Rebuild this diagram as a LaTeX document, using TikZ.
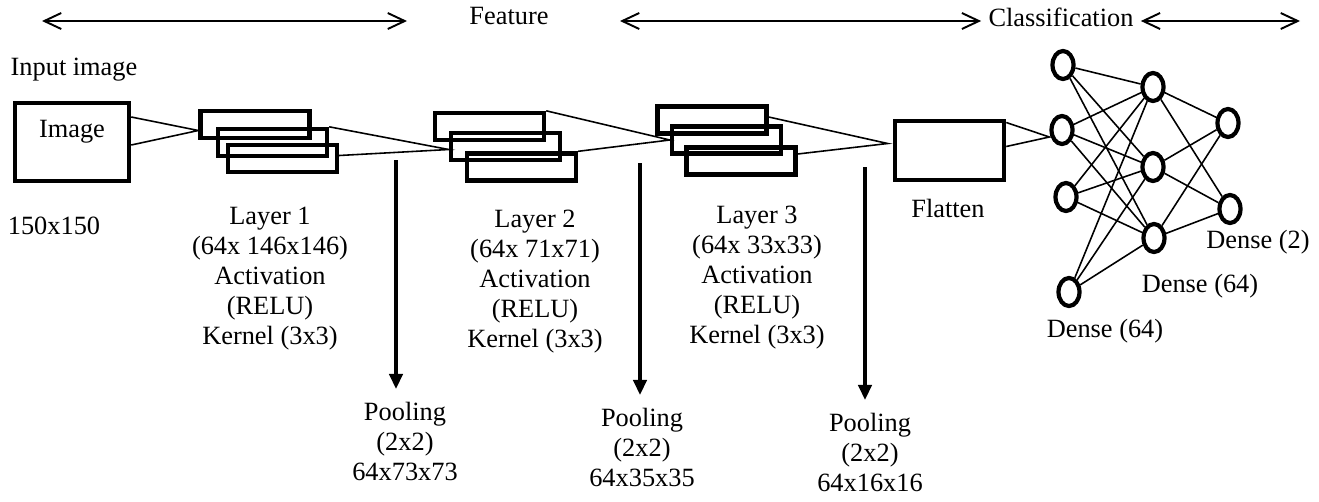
\documentclass[tikz,border=0pt]{standalone}
\usepackage{fontspec}
\setmainfont{Liberation Serif}
\usepackage{tikz}
\usetikzlibrary{shapes.geometric,arrows.meta,calc}

\begin{document}
\begin{tikzpicture}[x=0.02cm, y=-0.02cm,
    lbl/.style={font=\fontsize{15}{17.07}\selectfont, align=center, inner sep=0pt},
    imgbox/.style={rectangle, draw, line width=2.6pt, minimum width=2.28cm, minimum height=1.56cm, inner sep=0pt},
    fmap/.style={rectangle, draw, line width=2.5pt, minimum width=2.18cm, minimum height=0.54cm, inner sep=0pt},
    neuron/.style={ellipse, draw, line width=2.4pt, minimum width=0.42cm, minimum height=0.56cm, inner sep=0pt},
    link/.style={line width=0.9pt},
    pool/.style={line width=1.8pt, -{Triangle[length=0.3cm, width=0.27cm]}, shorten >=0.25cm},
    span/.style={line width=1.1pt, {Straight Barb[length=0.34cm, width=0.32cm]}-{Straight Barb[length=0.34cm, width=0.32cm]}}]
    \useasboundingbox (0,0) rectangle (1319,501);

    \node[lbl, anchor=base] (feat) at (509,24) {Feature};
    \node[lbl, anchor=base, inner xsep=4pt] (cls) at (1061,26) {Classification};
    \coordinate (a1l) at (42,21);
    \coordinate (a1r) at (407,21);
    \coordinate (a2l) at (620,21);
    \coordinate (a3r) at (1300,21);
    \draw[span] (a1l) -- (a1r);
    \draw[span] (a2l) -- (cls.west |- a2l);
    \draw[span] (cls.east |- a3r) -- (a3r);

    \node[lbl, anchor=base] (inp) at (74,75) {Input image};
    \node[imgbox] (img) at (72,142) {};
    \node[lbl, anchor=base] (imgtxt) at (72,137) {Image};
    \node[lbl, anchor=base] (insize) at (54,234) {150x150};

    \node[fmap] (l1a) at (255,124.5) {};
    \node[fmap] (l1b) at (272.5,142.5) {};
    \node[fmap] (l1c) at (282.5,158.5) {};
    \node[fmap] (l2a) at (489.5,126.5) {};
    \node[fmap] (l2b) at (505.5,146.5) {};
    \node[fmap] (l2c) at (521.5,167) {};
    \node[fmap] (l3a) at (712,120) {};
    \node[fmap] (l3b) at (726.5,140) {};
    \node[fmap] (l3c) at (741,161) {};

    \node[lbl] (l1txt) at (270,278.5) {Layer 1\\(64x 146x146)\\Activation\\(RELU)\\Kernel (3x3)};
    \node[lbl] (l2txt) at (535,282) {Layer 2\\(64x 71x71)\\Activation\\(RELU)\\Kernel (3x3)};
    \node[lbl] (l3txt) at (757,277.5) {Layer 3\\(64x 33x33)\\Activation\\(RELU)\\Kernel (3x3)};

    \node[imgbox, minimum width=2.18cm, minimum height=1.18cm] (flat) at (949.5,150.5) {};
    \node[lbl, anchor=base] (flattxt) at (948,217) {Flatten};

    \draw[link] ($(img.east)+(0,-25)$) -- ($(l1a.west)+(0,6)$) -- ($(img.east)+(0,3)$);
    \draw[link] (l1b.north east) -- ($(l2b.west)+(0,3)$) -- ($(l1c.east)+(0,-3)$);
    \draw[link] (l2a.north east) -- (l3b.west) -- (l2c.north east);
    \draw[link] ($(l3a.east)+(0,-3)$) -- ($(flat.west)+(-5,-7)$) -- ($(l3c.east)+(0,-7)$);

    \node[lbl] (p1) at (405,441) {Pooling\\(2x2)\\64x73x73};
    \node[lbl] (p2) at (642,447) {Pooling\\(2x2)\\64x35x35};
    \node[lbl] (p3) at (870,452) {Pooling\\(2x2)\\64x16x16};
    \coordinate (q1) at (396,160);
    \coordinate (q2) at (640,163);
    \coordinate (q3) at (865,167);
    \draw[pool] (q1) -- (q1 |- p1.north);
    \draw[pool] (q2) -- (q2 |- p2.north);
    \draw[pool] (q3) -- (q3 |- p3.north);

    \foreach \n/\x/\y in {i1/1063/65, i2/1062/130, i3/1066/197, i4/1069/292,
                          h1/1153/87, h2/1153/167, h3/1154/238, o1/1228/123, o2/1230/209}
        \node[neuron] (\n) at (\x,\y) {};
    \foreach \i in {1,...,4}
        \foreach \h in {1,2,3}
            \draw[link] (i\i) -- (h\h);
    \foreach \h in {1,2,3}
        \foreach \o in {1,2}
            \draw[link] (h\h) -- (o\o);
    \draw[link] ($(flat.east)+(0,-28)$) -- ($(i2.west)+(0,7)$) -- ($(flat.east)+(0,-4)$);

    \node[lbl, anchor=base] (d1) at (1105,337.5) {Dense (64)};
    \node[lbl, anchor=base] (d2) at (1200,292) {Dense (64)};
    \node[lbl, anchor=base] (d3) at (1258,248) {Dense (2)};
\end{tikzpicture}
\end{document}
